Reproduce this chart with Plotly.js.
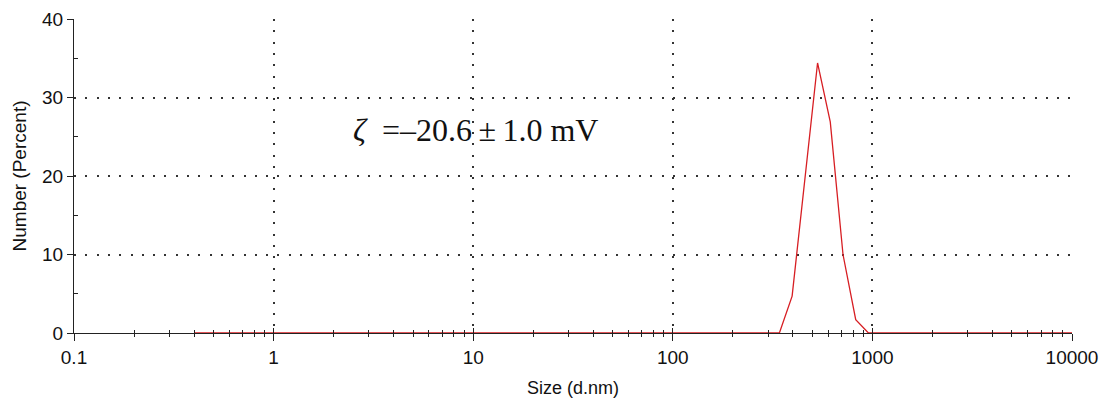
<!DOCTYPE html>
<html>
<head>
<meta charset="utf-8">
<script src="https://cdn.plot.ly/plotly-3.0.1.min.js"></script>
<style>html,body{margin:0;padding:0;background:#fff;}#chart{width:1100px;height:409px;}</style>
</head>
<body>
<div id="chart"></div>
<script>
// Size classes (d.nm) and number distribution (%)
var sizes = [0.4, 0.4632, 0.5365, 0.6213, 0.7195, 0.8332, 0.9649, 1.117, 1.294, 1.499, 1.736, 2.010, 2.328, 2.696, 3.122, 3.615, 4.187, 4.849, 5.615, 6.503, 7.531, 8.721, 10.10, 11.70, 13.54, 15.69, 18.17, 21.04, 24.36, 28.21, 32.67, 37.84, 43.82, 50.75, 58.77, 68.06, 78.82, 91.28, 105.7, 122.4, 141.8, 164.2, 190.1, 220.2, 255.0, 295.3, 342.0, 396.1, 458.7, 531.2, 615.1, 712.4, 825.0, 955.4, 1106, 1281, 1484, 1718, 1990, 2305, 2669, 3091, 3580, 4145, 4801, 5560, 6439, 7456, 8635, 10000];
var numberPct = [0,0,0,0,0,0,0,0,0,0,0,0,0,0,0,0,0,0,0,0,0,0,0,0,0,0,0,0,0,0,0,0,0,0,0,0,0,0,0,0,0,0,0,0,0,0,0, 4.7, 19.5, 34.4, 26.9, 10.0, 1.7, 0, 0,0,0,0,0,0,0,0,0,0,0,0,0,0,0,0];
var xTickVals = [0.1, 1, 10, 100, 1000, 10000];
var xTickText = ['0.1', '1', '10', '100', '1000', '10000'];
var xMinorVals = [0.2,0.3,0.4,0.5,0.6,0.7,0.8,0.9,2,3,4,5,6,7,8,9,20,30,40,50,60,70,80,90,200,300,400,500,600,700,800,900,2000,3000,4000,5000,6000,7000,8000,9000];
var yTickVals = [0, 10, 20, 30, 40];
var yMinorVals = [5, 15, 25, 35];
var annotationText = '<i>ζ</i>\u00a0\u00a0=–20.6\u2009±\u20091.0\u00a0mV';

var gridDash = '2px,9.3px';
var trace = {
  x: sizes, y: numberPct, type: 'scatter', mode: 'lines',
  line: {color: 'rgb(215,30,35)', width: 1.3},
  xaxis: 'x', yaxis: 'y', hoverinfo: 'skip'
};
var layout = {
  width: 1100, height: 409,
  margin: {l: 74, r: 28, t: 19, b: 76},
  paper_bgcolor: '#fff', plot_bgcolor: '#fff',
  showlegend: false,
  font: {family: 'Arial, Liberation Sans, sans-serif', color: '#111'},
  xaxis: {
    type: 'log', range: [-1, 4],
    tickvals: xTickVals, ticktext: xTickText,
    ticks: 'outside', ticklen: 7, tickcolor: '#222', tickwidth: 1,
    minor: {ticks: 'outside', ticklen: 3, tickcolor: '#222', showgrid: false, tickvals: xMinorVals},
    showline: true, linecolor: '#222', linewidth: 1,
    showgrid: true, gridcolor: '#333', gridwidth: 2, griddash: gridDash,
    zeroline: false,
    tickfont: {size: 19, color: '#111'},
    title: {text: 'Size (d.nm)', font: {size: 18, color: '#111'}, standoff: 14}
  },
  xaxis2: {
    type: 'log', range: [-1, 4], overlaying: 'x', anchor: 'y',
    tickvals: xTickVals, showticklabels: false,
    ticks: 'inside', ticklen: 5, tickcolor: '#222',
    minor: {ticks: 'inside', ticklen: 3, tickcolor: '#222', showgrid: false, tickvals: xMinorVals},
    showgrid: false, showline: false, zeroline: false
  },
  yaxis: {
    range: [0, 40], tickvals: yTickVals,
    ticks: 'outside', ticklen: 6, tickcolor: '#222',
    minor: {ticks: 'inside', ticklen: 4, tickcolor: '#222', showgrid: false, tickvals: yMinorVals},
    showline: true, linecolor: '#222', linewidth: 1,
    showgrid: true, gridcolor: '#333', gridwidth: 2, griddash: gridDash,
    zeroline: false,
    tickfont: {size: 19, color: '#111'},
    title: {text: 'Number (Percent)', font: {size: 19, color: '#111'}, standoff: 10}
  },
  annotations: [{
    xref: 'x', yref: 'y', x: Math.log10(2.43), y: 25.85,
    xanchor: 'left', yanchor: 'middle', showarrow: false,
    text: annotationText,
    font: {family: 'Liberation Serif, Times New Roman, serif', size: 32, color: '#111'}
  }]
};
var dummy = {x: [sizes[0]], y: [null], xaxis: 'x2', yaxis: 'y', type: 'scatter', mode: 'lines', hoverinfo: 'skip', showlegend: false};
Plotly.newPlot('chart', [dummy, trace], layout, {displayModeBar: false, staticPlot: true});
</script>
</body>
</html>
